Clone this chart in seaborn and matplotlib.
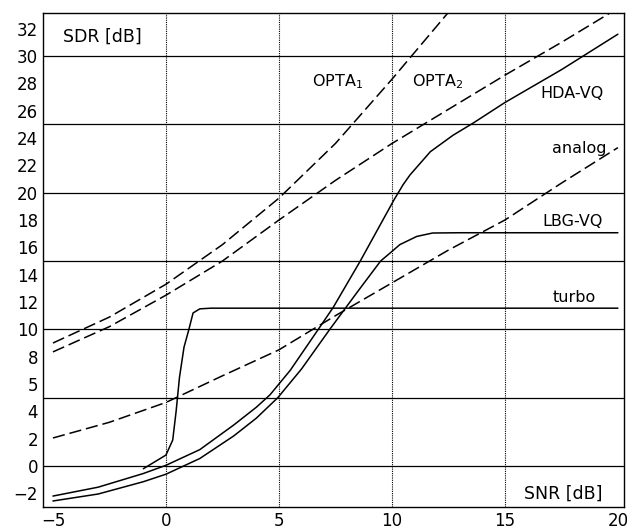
import pandas as pd
import matplotlib
matplotlib.use("Agg")
import matplotlib.pyplot as plt
from matplotlib.ticker import FixedLocator
import seaborn as sns

# curves, SNR [dB] -> SDR [dB]
opta1_snr = [-5, -2.5, 0, 2.5, 5, 7.5, 10, 12.5]
opta1_sdr = [9.0, 10.9, 13.3, 16.2, 19.6, 23.6, 28.3, 33.2]

opta2_snr = [-5, -2.5, 0, 2.5, 5, 7.5, 10, 12.5, 15, 17.5, 20]
opta2_sdr = [8.35, 10.2, 12.5, 15.0, 18.0, 20.9, 23.6, 26.1, 28.6, 31.0, 33.5]

analog_snr = [-5, -2.5, 0, 2.5, 5, 7.5, 10, 12.5, 15, 17.5, 20]
analog_sdr = [2.05, 3.2, 4.65, 6.6, 8.5, 11.0, 13.4, 15.8, 18.0, 20.7, 23.3]

hda_snr = [-5, -3, -1, 0, 1.5, 3, 4.0, 4.6, 5.5, 6.7, 7.4, 8.6, 10.1, 10.5, 10.8,
           11.7, 12.7, 13.6, 15, 17.5, 20]
hda_sdr = [-2.2, -1.55, -0.55, 0.05, 1.2, 3.0, 4.3, 5.2, 7.0, 9.9, 11.6, 15.0, 19.5,
           20.6, 21.3, 23.0, 24.2, 25.1, 26.6, 29.0, 31.6]

lbg_snr = [-5, -3, -1, 0, 1.5, 3, 4.0, 4.95, 6.0, 7.25, 8.5, 9.5, 10.0, 10.35, 11.1,
           11.8, 13, 20]
lbg_sdr = [-2.56, -2.05, -1.15, -0.6, 0.55, 2.2, 3.5, 5.0, 7.1, 10.0, 12.8, 15.0,
           15.7, 16.2, 16.8, 17.05, 17.07, 17.07]

turbo_snr = [-1.0, 0.0, 0.3, 0.45, 0.6, 0.8, 1.0, 1.2, 1.5, 2.0, 20.0]
turbo_sdr = [-0.2, 0.8, 1.9, 4.0, 6.5, 8.7, 9.9, 11.2, 11.5, 11.55, 11.55]

# y tick labels as printed (the one at 6 reads "5" in the original)
ytick_pos = [-2, 0, 2, 4, 6, 8, 10, 12, 14, 16, 18, 20, 22, 24, 26, 28, 30, 32]
ytick_lab = ["\u22122", "0", "2", "4", "5", "8", "10", "12", "14", "16", "18",
             "20", "22", "24", "26", "28", "30", "32"]
xtick_pos = [-5, 0, 5, 10, 15, 20]
hgrid = [0, 5, 10, 15, 20, 25, 30]
vgrid = [0, 5, 10, 15]

curves = [
    ("OPTA1", "dashed", opta1_snr, opta1_sdr),
    ("OPTA2", "dashed", opta2_snr, opta2_sdr),
    ("analog", "dashed", analog_snr, analog_sdr),
    ("HDA-VQ", "solid", hda_snr, hda_sdr),
    ("LBG-VQ", "solid", lbg_snr, lbg_sdr),
    ("turbo", "solid", turbo_snr, turbo_sdr),
]
rows = []
for name, kind, xs, ys in curves:
    for x, y in zip(xs, ys):
        rows.append({"curve": name, "kind": kind, "snr": x, "sdr": y})
df = pd.DataFrame(rows)

sns.set_style("white")
plt.rcParams["font.family"] = ["DejaVu Sans"]
plt.rcParams["text.color"] = "black"

fig = plt.figure(figsize=(6.27, 5.29), dpi=100)
ax = fig.add_axes([0.0686, 0.0416, 0.9266, 0.9338])

for y in hgrid:
    ax.axhline(y, color="black", lw=0.9, zorder=1)
for x in vgrid:
    ax.axvline(x, color="black", lw=0.8, ls=(0, (1, 1)), zorder=1)

sns.lineplot(data=df, x="snr", y="sdr", units="curve", estimator=None,
             style="kind", dashes={"solid": "", "dashed": (8, 3.2)},
             color="black", lw=1.1, sort=False, legend=False, ax=ax, zorder=3)

ax.set_xlim(-5.44, 20.27)
ax.set_ylim(-3.0, 33.15)
ax.set_xticks(xtick_pos)
ax.set_xticklabels([f"{v}".replace("-", "\u2212") for v in xtick_pos])
ax.yaxis.set_major_locator(FixedLocator(ytick_pos))
ax.set_yticklabels(ytick_lab)
ax.yaxis.set_minor_locator(FixedLocator(list(range(-3, 34))))
ax.tick_params(axis="both", which="both", direction="in", length=4, width=0.9,
               labelsize=12, colors="black")
ax.tick_params(axis="x", which="minor", length=0)
ax.set_xlabel("")
ax.set_ylabel("")
for s in ax.spines.values():
    s.set_color("black")
    s.set_linewidth(1.0)

fs = 12.5
ax.text(-2.8, 31.4, "SDR [dB]", fontsize=fs, ha="center", va="center")
ax.text(17.6, -2.05, "SNR [dB]", fontsize=fs, ha="center", va="center")
ax.text(7.6, 28.1, r"OPTA$_1$", fontsize=fs - 1, ha="center", va="center")
ax.text(12.0, 28.1, r"OPTA$_2$", fontsize=fs - 1, ha="center", va="center")
ax.text(17.96, 27.25, "HDA-VQ", fontsize=fs - 1, ha="center", va="center")
ax.text(18.3, 23.2, "analog", fontsize=fs - 1, ha="center", va="center")
ax.text(18.0, 17.9, "LBG-VQ", fontsize=fs - 1, ha="center", va="center")
ax.text(18.05, 12.3, "turbo", fontsize=fs - 1, ha="center", va="center")

fig.savefig("out.png", dpi=100)
